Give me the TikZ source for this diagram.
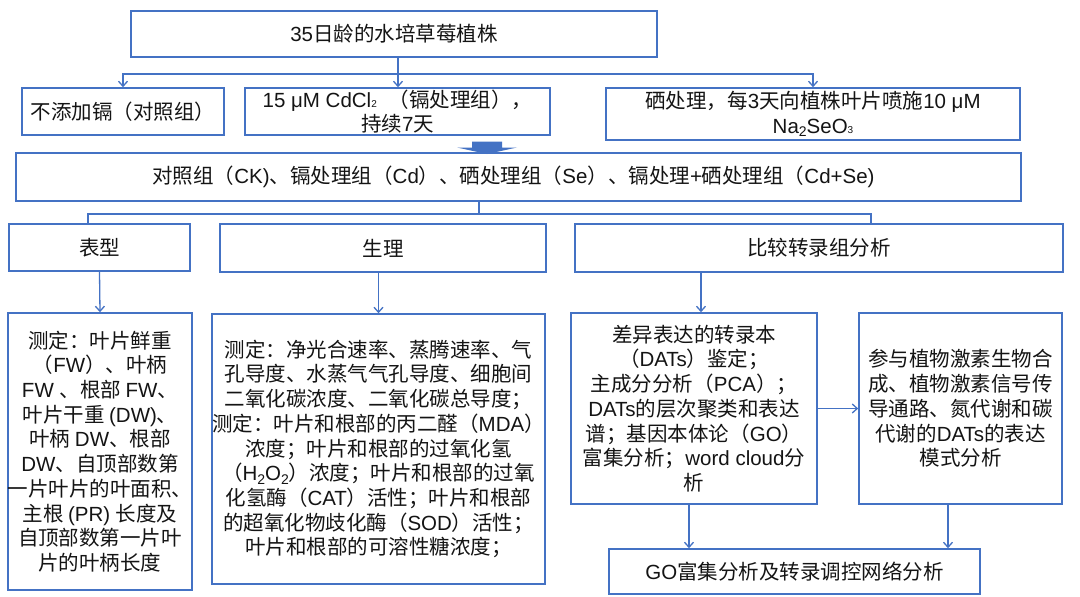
\documentclass[tikz,border=0pt]{standalone}
\usepackage{fontspec}
\setmainfont{Liberation Sans}
\newfontfamily\cjkf{Noto Sans CJK SC}
\newfontfamily\latf{Liberation Sans}
\usetikzlibrary{arrows.meta}
\XeTeXinterchartokenstate=1
\newXeTeXintercharclass\cjkcls
\newcount\mycnt
\mycnt="2E80
\loop\ifnum\mycnt<"A000 \XeTeXcharclass\mycnt=\cjkcls \advance\mycnt by 1 \repeat
\mycnt="FF00
\loop\ifnum\mycnt<"FFF0 \XeTeXcharclass\mycnt=\cjkcls \advance\mycnt by 1 \repeat
\XeTeXinterchartoks 0 \cjkcls = {\cjkf}
\XeTeXinterchartoks \cjkcls 0 = {\latf}
\XeTeXinterchartoks 4095 \cjkcls = {\cjkf}
\XeTeXinterchartoks 4095 0 = {\latf}
\definecolor{bl}{RGB}{68,114,196}
\definecolor{tx}{RGB}{20,20,20}
\newcommand\fs{\fontsize{20.5}{24.7}\selectfont}
\newcommand\subn[1]{\raisebox{-0.35ex}{\fontsize{14}{14}\selectfont #1}}
\newcommand\tinyn[1]{{\fontsize{10}{10}\selectfont #1}}
\begin{document}
\begin{tikzpicture}[x=1pt,y=-1pt,
  box/.style={draw=bl, line width=1.6pt, inner sep=0pt, align=center, font=\fs, text=tx},
  line/.style={draw=bl, line width=1.3pt},
  arr/.style={draw=bl, line width=1.3pt, -{Straight Barb[length=5pt,width=9pt]}}]
\useasboundingbox (0,0) rectangle (1080,597);
\fill[white] (0,0) rectangle (1080,597);
% boxes
\node[box, minimum width=526pt, minimum height=46pt] (top) at (394,34) {35日龄的水培草莓植株};
\node[box, minimum width=202pt, minimum height=47pt] (A) at (123,111.5) {不添加镉（对照组）};
\node[box, minimum width=305pt, minimum height=47pt] (B) at (397.5,111.5) {15 μM CdCl\tinyn{2}\hspace{12pt}（镉处理组），\\持续7天};
\node[box, minimum width=414pt, minimum height=52pt] (C) at (813,114) {硒处理，每3天向植株叶片喷施10 μM\\Na\subn{2}SeO\tinyn{3}};
\node[box, minimum width=1005pt, minimum height=48pt] (D) at (518.5,177) {\hspace*{-10pt}对照组（CK)、镉处理组（Cd）、硒处理组（Se）、镉处理+硒处理组（Cd+Se)};
\node[box, minimum width=181pt, minimum height=47pt] (E1) at (99.5,247.5) {表型};
\node[box, minimum width=326pt, minimum height=48pt] (E2) at (383,248) {生理};
\node[box, minimum width=488pt, minimum height=48pt] (E3) at (819,248) {比较转录组分析};
\node[box, minimum width=182pt, minimum height=277pt] (F1) at (100,451.5) {测定：叶片鲜重\\（FW）、叶柄\\FW 、根部 FW、\\叶片干重 (DW)、\\叶柄 DW、根部\\DW、自顶部数第\\一片叶片的叶面积、\\主根 (PR) 长度及\\自顶部数第一片叶\\片的叶柄长度};
\node[box, minimum width=333pt, minimum height=270pt] (F2) at (378.5,449) {测定：净光合速率、蒸腾速率、气\\孔导度、水蒸气气孔导度、细胞间\\二氧化碳浓度、二氧化碳总导度；\\测定：叶片和根部的丙二醛（MDA）\\浓度；叶片和根部的过氧化氢\\（H\subn{2}O\subn{2}）浓度；叶片和根部的过氧\\化氢酶（CAT）活性；叶片和根部\\的超氧化物歧化酶（SOD）活性；\\叶片和根部的可溶性糖浓度；};
\node[box, minimum width=246pt, minimum height=191pt] (DATs) at (694,408.5) {差异表达的转录本\\（DATs）鉴定；\\主成分分析（PCA）；\\DATs的层次聚类和表达\\谱；基因本体论（GO）\\富集分析；word cloud分\\析};
\node[box, minimum width=203pt, minimum height=191pt] (Horm) at (960.5,408.5) {参与植物激素生物合\\成、植物激素信号传\\导通路、氮代谢和碳\\代谢的DATs的表达\\模式分析};
\node[box, minimum width=371pt, minimum height=45pt] (GO) at (794.5,571.5) {GO富集分析及转录调控网络分析};
% helper coordinates
\coordinate (jTop) at (398,74);
\coordinate (jD) at (479,214);
\coordinate (x88) at (88,0);
\coordinate (x871) at (871,0);
\coordinate (x701) at (701,0);
\coordinate (x689) at (689,0);
\coordinate (x948) at (948,0);
% top connectors
\draw[line] (top.south -| jTop) -- (jTop);
\draw[arr] (jTop) -| (A.north);
\draw[arr] (jTop) -- (B.north -| jTop);
\draw[arr] (jTop) -| (C.north);
% block arrow
\fill[bl] (472,141.5) -- (502,141.5) -- (502,147.5) -- (517,147.5) -- (487,154) -- (457,147.5) -- (472,147.5) -- cycle;
% D connectors
\draw[line] (D.south -| jD) -- (jD);
\draw[line] (jD) -| (E1.north -| x88);
\draw[line] (jD) -| (E3.north -| x871);
% lower arrows
\draw[arr] (E1.south) -- (F1.north);
\draw[arr] (E2.south -| F2.north) -- (F2.north);
\draw[arr] (E3.south -| x701) -- (DATs.north -| x701);
\draw[arr] (DATs.east) -- (Horm.west);
\draw[arr] (DATs.south -| x689) -- (GO.north -| x689);
\draw[arr] (Horm.south -| x948) -- (GO.north -| x948);
\end{tikzpicture}
\end{document}
